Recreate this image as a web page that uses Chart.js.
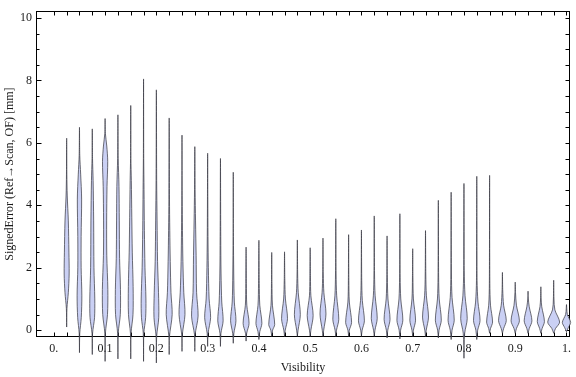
<!DOCTYPE html>
<html>
<head>
<meta charset="utf-8">
<script src="https://cdn.jsdelivr.net/npm/chart.js@4/dist/chart.umd.min.js"></script>
<style>
  html, body { margin: 0; padding: 0; background: #fff; }
</style>
</head>
<body>
<canvas id="violins" width="576" height="377"></canvas>
<script>
// ── Data ─────────────────────────────────────
// violin centres (Visibility bins)
const visibility = [
  0.025, 0.05, 0.075, 0.1, 0.125, 0.15, 0.175, 0.2, 0.225, 0.25,
  0.275, 0.3, 0.325, 0.35, 0.375, 0.4, 0.425, 0.45, 0.475, 0.5,
  0.525, 0.55, 0.575, 0.6, 0.625, 0.65, 0.675, 0.7, 0.725, 0.75,
  0.775, 0.8, 0.825, 0.85, 0.875, 0.9, 0.925, 0.95, 0.975, 1.0
];

// density outline per violin: [signed error (mm), relative density]
const profiles = [
  [[0.1,0],[0.7,0.05],[1.2,0.28],[1.8,0.42],[2.5,0.38],[3.5,0.28],[4.3,0.1],[5.0,0.03],[6.15,0]],
  [[-0.72,0],[-0.1,0.05],[0.4,0.3],[1.1,0.4],[2.0,0.28],[3.0,0.28],[4.2,0.36],[5.0,0.2],[5.6,0.05],[6.5,0]],
  [[-0.78,0],[-0.1,0.05],[0.4,0.38],[1.0,0.42],[2.0,0.28],[3.5,0.23],[4.8,0.14],[5.5,0.04],[6.45,0]],
  [[-1.0,0],[-0.1,0.05],[0.5,0.4],[1.3,0.46],[2.4,0.28],[3.5,0.26],[4.6,0.32],[5.4,0.44],[5.9,0.28],[6.3,0.05],[6.78,0]],
  [[-0.92,0],[-0.1,0.05],[0.5,0.4],[1.3,0.43],[2.3,0.28],[3.5,0.23],[4.6,0.18],[5.5,0.05],[6.9,0]],
  [[-0.92,0],[-0.1,0.05],[0.5,0.38],[1.4,0.4],[2.5,0.26],[3.6,0.18],[4.8,0.1],[5.5,0.03],[7.2,0]],
  [[-1.0,0],[-0.1,0.05],[0.4,0.35],[1.0,0.4],[2.0,0.24],[3.2,0.14],[4.5,0.08],[5.5,0.03],[8.05,0]],
  [[-1.05,0],[-0.2,0.05],[0.4,0.4],[1.2,0.36],[2.2,0.2],[3.5,0.12],[4.8,0.05],[7.7,0]],
  [[-0.78,0],[-0.2,0.05],[0.5,0.5],[1.2,0.3],[2.2,0.18],[3.2,0.1],[4.2,0.05],[6.8,0]],
  [[-0.68,0],[-0.15,0.05],[0.5,0.5],[1.2,0.3],[2.2,0.15],[3.2,0.08],[4.2,0.04],[6.25,0]],
  [[-0.68,0],[-0.15,0.05],[0.45,0.55],[1.2,0.3],[2.4,0.22],[3.5,0.12],[4.5,0.05],[5.88,0]],
  [[-0.52,0],[-0.1,0.08],[0.4,0.5],[1.0,0.25],[2.0,0.12],[3.0,0.06],[4.2,0.03],[5.67,0]],
  [[-0.52,0],[-0.1,0.08],[0.3,0.45],[0.9,0.22],[1.8,0.1],[3.0,0.05],[5.5,0]],
  [[-0.42,0],[-0.1,0.1],[0.3,0.45],[0.9,0.18],[1.8,0.08],[3.0,0.03],[5.06,0]],
  [[-0.35,0],[-0.1,0.1],[0.22,0.5],[0.8,0.12],[1.5,0.05],[2.66,0]],
  [[-0.3,0],[-0.05,0.15],[0.22,0.5],[0.8,0.15],[1.5,0.06],[2.88,0]],
  [[-0.2,0],[0.0,0.15],[0.18,0.5],[0.8,0.12],[1.5,0.04],[2.49,0]],
  [[-0.2,0],[0.0,0.12],[0.37,0.5],[1.0,0.15],[1.6,0.05],[2.51,0]],
  [[-0.2,0],[0.0,0.12],[0.5,0.5],[1.2,0.15],[1.8,0.05],[2.89,0]],
  [[-0.2,0],[0.0,0.12],[0.47,0.5],[1.1,0.12],[1.7,0.05],[2.64,0]],
  [[-0.2,0],[0.0,0.12],[0.52,0.5],[1.2,0.15],[1.8,0.05],[2.95,0]],
  [[-0.2,0],[0.0,0.12],[0.35,0.5],[1.1,0.15],[1.8,0.05],[3.57,0]],
  [[-0.2,0],[0.0,0.12],[0.25,0.5],[0.9,0.12],[1.6,0.04],[3.06,0]],
  [[-0.2,0],[0.0,0.12],[0.3,0.5],[0.95,0.15],[1.6,0.05],[3.21,0]],
  [[-0.2,0],[0.0,0.12],[0.38,0.5],[1.1,0.15],[1.8,0.05],[3.66,0]],
  [[-0.25,0],[0.0,0.12],[0.35,0.5],[1.0,0.15],[1.7,0.05],[3.02,0]],
  [[-0.28,0],[0.0,0.12],[0.32,0.5],[1.0,0.15],[1.7,0.05],[3.73,0]],
  [[-0.2,0],[0.0,0.12],[0.32,0.48],[1.0,0.12],[1.7,0.04],[2.61,0]],
  [[-0.2,0],[0.0,0.12],[0.42,0.5],[1.1,0.15],[1.8,0.05],[3.19,0]],
  [[-0.25,0],[0.0,0.12],[0.32,0.5],[1.0,0.15],[1.7,0.05],[4.16,0]],
  [[-0.3,0],[0.0,0.15],[0.32,0.52],[1.05,0.15],[1.8,0.05],[4.42,0]],
  [[-0.9,0],[-0.1,0.12],[0.37,0.55],[1.1,0.18],[1.9,0.05],[4.7,0]],
  [[-0.3,0],[0.0,0.15],[0.31,0.55],[0.9,0.2],[1.6,0.05],[4.93,0]],
  [[-0.1,0],[0.05,0.15],[0.26,0.5],[0.8,0.15],[1.5,0.04],[4.96,0]],
  [[-0.1,0],[0.05,0.2],[0.31,0.65],[0.8,0.2],[1.3,0.05],[1.85,0]],
  [[-0.1,0],[0.05,0.2],[0.3,0.7],[0.8,0.2],[1.2,0.05],[1.54,0]],
  [[-0.1,0],[0.05,0.2],[0.3,0.65],[0.75,0.2],[1.0,0.05],[1.25,0]],
  [[-0.1,0],[0.05,0.2],[0.28,0.6],[0.75,0.15],[1.0,0.05],[1.39,0]],
  [[-0.1,0],[0.05,0.3],[0.26,1.0],[0.65,0.2],[1.0,0.05],[1.6,0]],
  [[-0.05,0],[0.08,0.3],[0.25,0.7],[0.5,0.15],[0.7,0.04],[0.82,0]]
];

const xTickValues = [0, 0.1, 0.2, 0.3, 0.4, 0.5, 0.6, 0.7, 0.8, 0.9, 1.0];
const xTickLabels = ['0.', '0.1', '0.2', '0.3', '0.4', '0.5', '0.6', '0.7', '0.8', '0.9', '1.'];
const yTickValues = [0, 2, 4, 6, 8, 10];

// ── Style ────────────────────────────────────
const serif = "'Liberation Serif','Times New Roman',serif";
const FILL = 'rgb(202,208,244)';
const EDGE = 'rgba(55,55,65,0.72)';
const HALF_WIDTH = 0.0116;   // x-units for relative density 1

// ── Violin outlines ──────────────────────────
const datasets = profiles.map((p, i) => {
  const c = visibility[i];
  const right = p.map(([y, w]) => ({ x: c + w * HALF_WIDTH, y }));
  const left = p.slice(0, -1).reverse().map(([y, w]) => ({ x: c - w * HALF_WIDTH, y }));
  return {
    data: right.concat(left),
    showLine: true, fill: 'shape',
    backgroundColor: FILL, borderColor: EDGE, borderWidth: 1,
    pointRadius: 0, tension: 0.3, clip: false
  };
});

// ── Frame with inward ticks ──────────────────
const framePlugin = {
  id: 'frame',
  beforeDatasetsDraw(chart) {
    const { ctx, chartArea: a, scales: { x, y } } = chart;
    const L = Math.round(a.left) + 0.5, R = Math.round(a.right) - 0.5;
    const T = Math.round(a.top) + 0.5, B = Math.round(a.bottom) - 0.5;
    ctx.save();
    ctx.strokeStyle = '#000';
    ctx.lineWidth = 1;
    ctx.strokeRect(L, T, R - L, B - T);
    ctx.beginPath();
    [0, ...visibility].forEach(v => {
      const px = Math.round(x.getPixelForValue(v)) + 0.5;
      ctx.moveTo(px, B); ctx.lineTo(px, B - 4);
      ctx.moveTo(px, T); ctx.lineTo(px, T + 4);
    });
    for (let k = 0; k <= 20; k++) {
      const v = k * 0.5;
      const py = Math.round(y.getPixelForValue(v)) + 0.5;
      const len = k % 4 === 0 ? 5 : 3;
      ctx.moveTo(L, py); ctx.lineTo(L + len, py);
      ctx.moveTo(R, py); ctx.lineTo(R - 4, py);
    }
    ctx.stroke();
    ctx.restore();
  }
};

new Chart(document.getElementById('violins'), {
  type: 'scatter',
  data: { datasets },
  options: {
    responsive: false,
    animation: false,
    layout: { padding: { top: 4, right: 1, left: 0, bottom: 0 } },
    elements: { line: { capBezierPoints: false } },
    plugins: { legend: { display: false }, tooltip: { enabled: false } },
    scales: {
      x: {
        type: 'linear', min: -0.0348, max: 1.0066,
        afterBuildTicks: s => { s.ticks = xTickValues.map(v => ({ value: v })); },
        afterFit: s => { s.height = 40; },
        grid: { display: false, drawTicks: false },
        border: { display: false },
        ticks: {
          autoSkip: false, maxRotation: 0, padding: 5, color: '#1a1a1a',
          font: { family: serif, size: 12 },
          callback: v => xTickLabels[xTickValues.indexOf(v)]
        },
        title: { display: true, text: 'Visibility', color: '#1a1a1a',
                 font: { family: serif, size: 12 }, padding: { top: 0, bottom: 2 } }
      },
      y: {
        type: 'linear', min: -0.219, max: 10.22,
        afterBuildTicks: s => { s.ticks = yTickValues.map(v => ({ value: v })); },
        afterFit: s => { s.width = 36; },
        grid: { display: false, drawTicks: false },
        border: { display: false },
        ticks: { padding: 4, color: '#1a1a1a', font: { family: serif, size: 12 } },
        title: { display: true, text: 'SignedError (Ref\u2192Scan, OF) [mm]', color: '#1a1a1a',
                 font: { family: serif, size: 12 }, padding: { top: 3, bottom: 0 } }
      }
    }
  },
  plugins: [framePlugin]
});
</script>
</body>
</html>
